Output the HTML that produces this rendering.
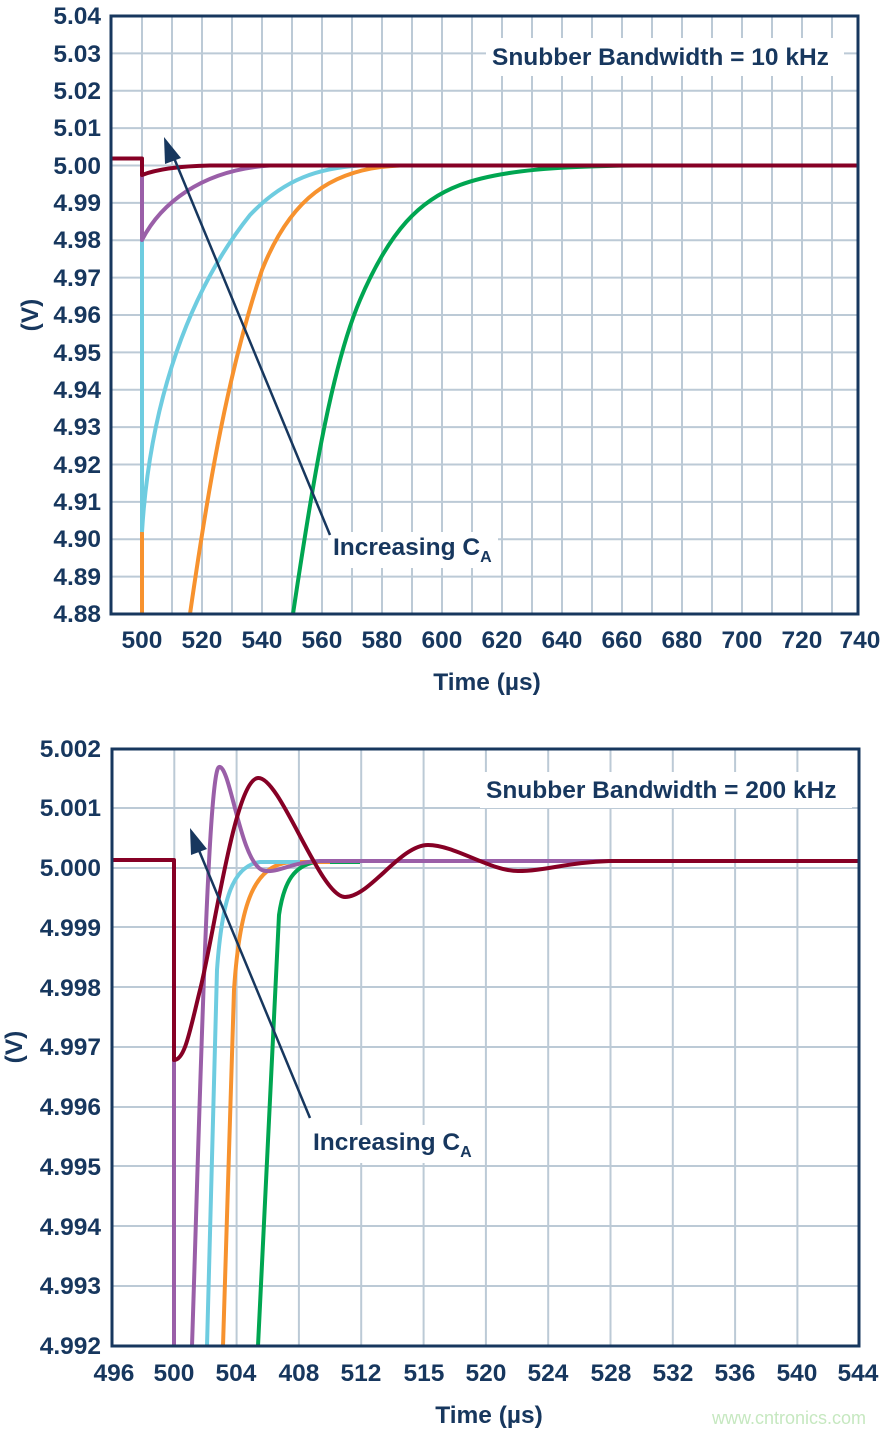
<!DOCTYPE html>
<html><head><meta charset="utf-8"><style>
body{margin:0;background:#fff;}
svg{display:block;font-family:"Liberation Sans",Arial,sans-serif;font-weight:bold;}
.t{fill:#17375e;font-size:24.5px;}
</style></head><body>
<svg width="886" height="1434" viewBox="0 0 886 1434" xmlns="http://www.w3.org/2000/svg">
<!-- TOP CHART -->
<g stroke="#bccad6" stroke-width="2" fill="none">
<path d="M142,16V614M172,16V614M202,16V614M232,16V614M262,16V614M292,16V614M322,16V614M352,16V614M382,16V614M412,16V614M442,16V614M472,16V614M502,16V614M532,16V614M562,16V614M592,16V614M622,16V614M652,16V614M682,16V614M712,16V614M742,16V614M772,16V614M802,16V614M832,16V614"/>
<path d="M112,53.4H858M112,90.8H858M112,128.1H858M112,165.5H858M112,202.9H858M112,240.3H858M112,277.6H858M112,315H858M112,352.4H858M112,389.8H858M112,427.1H858M112,464.5H858M112,501.9H858M112,539.3H858M112,576.6H858"/>
</g>
<rect x="486" y="38" width="358" height="38" fill="#fff"/>
<rect x="328" y="532" width="170" height="36" fill="#fff"/>
<g fill="none" stroke-width="4" stroke-linejoin="round">
<path stroke="#f7922e" d="M142,528V614M190,614C205,510 225,380 262,270C290,200 330,168 400,165.5"/>
<path stroke="#00a651" d="M293,614C310,500 330,370 360,300C390,230 420,200 460,185C500,170 560,166 640,165.5"/>
<path stroke="#6ecce0" d="M142,532V168M142,532C150,400 190,290 250,215C285,178 320,168 360,165.5"/>
<path stroke="#9a5fa8" d="M142,166V240C160,205 200,170 270,165.5"/>
<path stroke="#860025" d="M112,158.5H142V175C160,168 185,166 210,165.5H858"/>
</g>
<line x1="330" y1="535" x2="174" y2="158" stroke="#17375e" stroke-width="2.5"/>
<polygon points="164,137 181,158 165,164" fill="#17375e"/>
<rect x="111" y="16" width="747" height="598" fill="none" stroke="#17375e" stroke-width="3"/>
<text class="t" x="492" y="65">Snubber Bandwidth = 10 kHz</text>
<text class="t" x="333" y="555">Increasing C<tspan font-size="16" dy="7">A</tspan></text>
<g class="t" text-anchor="end">
<text x="101" y="24">5.04</text><text x="101" y="62">5.03</text><text x="101" y="99">5.02</text><text x="101" y="136">5.01</text><text x="101" y="174">5.00</text><text x="101" y="211">4.99</text><text x="101" y="248">4.98</text><text x="101" y="286">4.97</text><text x="101" y="323">4.96</text><text x="101" y="361">4.95</text><text x="101" y="398">4.94</text><text x="101" y="435">4.93</text><text x="101" y="473">4.92</text><text x="101" y="510">4.91</text><text x="101" y="547">4.90</text><text x="101" y="585">4.89</text><text x="101" y="622">4.88</text>
</g>
<g class="t" text-anchor="middle">
<text x="142" y="648">500</text><text x="202" y="648">520</text><text x="262" y="648">540</text><text x="322" y="648">560</text><text x="382" y="648">580</text><text x="442" y="648">600</text><text x="502" y="648">620</text><text x="562" y="648">640</text><text x="622" y="648">660</text><text x="682" y="648">680</text><text x="742" y="648">700</text><text x="802" y="648">720</text><text x="860" y="648">740</text>
<text x="487" y="690">Time (µs)</text>
</g>
<text class="t" transform="translate(38,315) rotate(-90)" text-anchor="middle">(V)</text>

<!-- BOTTOM CHART -->
<g stroke="#bccad6" stroke-width="2" fill="none">
<path d="M174.3,750V1346M236.6,750V1346M298.9,750V1346M361.2,750V1346M423.6,750V1346M485.9,750V1346M548.2,750V1346M610.5,750V1346M672.8,750V1346M735.1,750V1346M797.4,750V1346"/>
<path d="M112,808H858M112,868H858M112,927H858M112,987H858M112,1047H858M112,1107H858M112,1166H858M112,1226H858M112,1286H858"/>
</g>
<rect x="480" y="772" width="372" height="36" fill="#fff"/>
<rect x="308" y="1125" width="170" height="38" fill="#fff"/>
<g fill="none" stroke-width="4" stroke-linejoin="round">
<path stroke="#00a651" d="M258,1346L279,915C284,880 295,866 315,862H360"/>
<path stroke="#f7922e" d="M223,1346L234,990C240,900 255,866 290,862H330"/>
<path stroke="#6ecce0" d="M207,1346L217,970C222,900 232,866 260,862H300"/>
<path stroke="#9a5fa8" d="M174,1060V1346M192,1346C200,1100 208,770 219,767C230,764 240,860 262,870C275,875 290,862 320,861H858"/>
<path stroke="#860025" d="M112,860H174V1060C185,1060 190,1030 200,990C215,930 235,780 258,778C280,776 320,897 345,897C370,897 400,845 428,845C455,845 490,871 518,871C545,871 570,862 610,861H858"/>
</g>
<line x1="310" y1="1118" x2="198" y2="848" stroke="#17375e" stroke-width="2.5"/>
<polygon points="190,828 207,849 191,855" fill="#17375e"/>
<rect x="112" y="749" width="747" height="597" fill="none" stroke="#17375e" stroke-width="3"/>
<text class="t" x="486" y="798">Snubber Bandwidth = 200 kHz</text>
<text class="t" x="313" y="1150">Increasing C<tspan font-size="16" dy="7">A</tspan></text>
<g class="t" text-anchor="end">
<text x="101" y="757">5.002</text><text x="101" y="816">5.001</text><text x="101" y="876">5.000</text><text x="101" y="936">4.999</text><text x="101" y="996">4.998</text><text x="101" y="1055">4.997</text><text x="101" y="1115">4.996</text><text x="101" y="1175">4.995</text><text x="101" y="1235">4.994</text><text x="101" y="1294">4.993</text><text x="101" y="1354">4.992</text>
</g>
<g class="t" text-anchor="middle">
<text x="114" y="1381">496</text><text x="174" y="1381">500</text><text x="236" y="1381">504</text><text x="299" y="1381">408</text><text x="361" y="1381">512</text><text x="424" y="1381">515</text><text x="486" y="1381">520</text><text x="548" y="1381">524</text><text x="611" y="1381">528</text><text x="673" y="1381">532</text><text x="735" y="1381">536</text><text x="797" y="1381">540</text><text x="858" y="1381">544</text>
<text x="489" y="1423">Time (µs)</text>
</g>
<text class="t" transform="translate(22,1047) rotate(-90)" text-anchor="middle">(V)</text>
<text x="866" y="1424" text-anchor="end" font-size="18" font-weight="normal" fill="#c6e8c0">www.cntronics.com</text>
</svg>
</body></html>
